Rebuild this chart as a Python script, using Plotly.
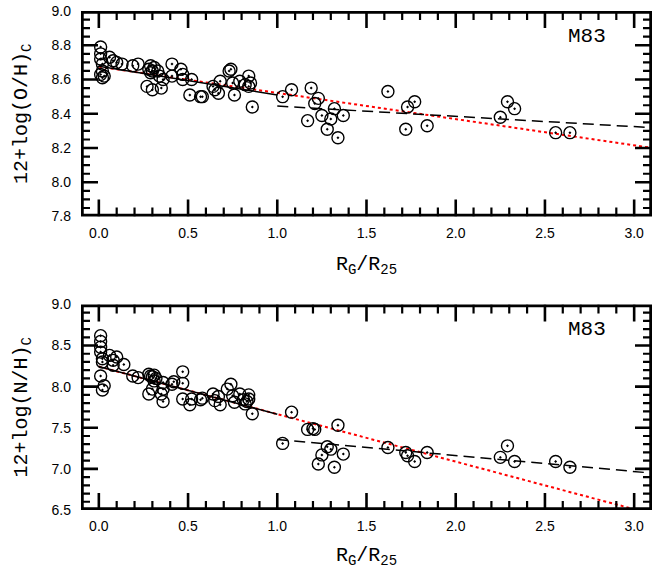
import numpy as np
import plotly.graph_objects as go
from plotly.subplots import make_subplots

# Galactocentric radius (R_G/R_25) and oxygen abundance, 12+log(O/H)
r_oh = [0.01, 0.01, 0.01, 0.02, 0.02, 0.01, 0.03, 0.02, 0.06, 0.08, 0.10, 0.13,
        0.19, 0.22, 0.29, 0.28, 0.30, 0.29, 0.31, 0.33, 0.27, 0.30, 0.35, 0.36,
        0.34, 0.41, 0.41, 0.46, 0.47, 0.47, 0.52, 0.51, 0.57, 0.58, 0.64, 0.65,
        0.67, 0.68, 0.73, 0.74, 0.76, 0.75, 0.79, 0.82, 0.84, 0.85, 0.84, 0.86,
        1.03, 1.08, 1.19, 1.23, 1.21, 1.17, 1.25, 1.28, 1.30, 1.32, 1.37, 1.34,
        1.62, 1.73, 1.77, 1.72, 1.84, 2.25, 2.29, 2.33, 2.56, 2.64]
oh = [8.79, 8.75, 8.72, 8.69, 8.65, 8.63, 8.62, 8.61, 8.73, 8.71, 8.70, 8.69,
      8.68, 8.69, 8.68, 8.66, 8.65, 8.64, 8.67, 8.65, 8.56, 8.54, 8.55, 8.60,
      8.62, 8.69, 8.62, 8.66, 8.63, 8.60, 8.60, 8.51, 8.50, 8.50, 8.56, 8.54,
      8.52, 8.59, 8.65, 8.66, 8.51, 8.58, 8.59, 8.57, 8.56, 8.58, 8.62, 8.44,
      8.50, 8.54, 8.55, 8.49, 8.46, 8.36, 8.39, 8.31, 8.37, 8.43, 8.39, 8.26,
      8.53, 8.44, 8.47, 8.31, 8.33, 8.38, 8.47, 8.43, 8.29, 8.29]

# Galactocentric radius (R_G/R_25) and nitrogen abundance, 12+log(N/H)
r_nh = [0.01, 0.01, 0.01, 0.01, 0.02, 0.02, 0.01, 0.03, 0.02, 0.06, 0.08, 0.10,
        0.08, 0.14, 0.19, 0.22, 0.28, 0.29, 0.30, 0.31, 0.32, 0.28, 0.30, 0.31,
        0.36, 0.35, 0.36, 0.36, 0.41, 0.42, 0.47, 0.47, 0.47, 0.51, 0.52, 0.57,
        0.58, 0.64, 0.65, 0.67, 0.68, 0.72, 0.74, 0.75, 0.76, 0.79, 0.81, 0.82,
        0.83, 0.84, 0.84, 0.86, 1.08, 1.17, 1.20, 1.21, 1.34, 1.03, 1.28, 1.30,
        1.25, 1.37, 1.23, 1.32, 1.62, 1.72, 1.73, 1.77, 1.84, 2.25, 2.29, 2.33,
        2.56, 2.64]
nh = [8.62, 8.55, 8.48, 8.42, 8.34, 8.30, 8.13, 8.01, 7.96, 8.38, 8.32, 8.36,
      8.26, 8.27, 8.13, 8.11, 8.15, 8.13, 8.12, 8.14, 8.10, 7.91, 7.97, 8.07,
      7.97, 7.91, 7.82, 8.05, 8.03, 8.06, 8.18, 8.04, 7.85, 7.78, 7.85, 7.84,
      7.86, 7.91, 7.83, 7.88, 7.78, 7.97, 8.03, 7.89, 7.81, 7.91, 7.84, 7.79,
      7.82, 7.85, 7.90, 7.67, 7.69, 7.48, 7.49, 7.48, 7.53, 7.31, 7.27, 7.24,
      7.17, 7.18, 7.06, 7.02, 7.26, 7.20, 7.16, 7.09, 7.20, 7.14, 7.28, 7.09,
      7.09, 7.02]

# Gradient fits: (intercept, slope, x start, x end)
oh_inner = (8.677, -0.167, 0.0, 1.0)
oh_outer = (8.505, -0.060, 1.0, 3.07)
oh_global = (8.675, -0.153, 0.0, 3.1)
nh_inner = (8.244, -0.580, 0.0, 1.0)
nh_outer = (7.553, -0.195, 1.0, 3.06)
nh_global = (8.244, -0.578, 0.0, 3.1)

galaxy = "M83"

# Axis ranges and tick spacing (major, minor) per axis
x_range = (-0.1, 3.1)
x_step = (0.5, 0.1)
oh_range = (7.8, 9.0)
oh_step = (0.2, 0.05)
nh_range = (6.5, 9.0)
nh_step = (0.5, 0.1)

# Page geometry
W, H = 659, 569
ML, MR, MT, MB = 81, 7, 11, 59
VSPACE = 0.176
plot_w = W - ML - MR
panel_h = (H - MT - MB) * (1 - VSPACE) / 2
MAJ_LEN, MIN_LEN = 17, 9
AXIS_COLOR = "black"

fig = make_subplots(rows=2, cols=1, vertical_spacing=VSPACE)


def fit_line(p):
    a, b, x0, x1 = p
    return [x0, x1], [a + b * x0, a + b * x1]


def tick_values(rng, step):
    """Major and minor tick positions strictly inside a range."""
    n0 = int(np.ceil(rng[0] / step[1] - 1e-6))
    n1 = int(np.floor(rng[1] / step[1] + 1e-6))
    ratio = int(round(step[0] / step[1]))
    major, minor = [], []
    for k in range(n0, n1 + 1):
        v = round(k * step[1], 4)
        if abs(v - rng[0]) < 1e-6 or abs(v - rng[1]) < 1e-6:
            continue
        (major if k % ratio == 0 else minor).append(v)
    return major, minor


def tick_path(xvals, yvals, yrng, length):
    """Inward tick segments on all four sides of a panel."""
    dx = length * (x_range[1] - x_range[0]) / plot_w
    dy = length * (yrng[1] - yrng[0]) / panel_h
    px, py = [], []
    for v in xvals:
        px += [v, v, None, v, v, None]
        py += [yrng[0], yrng[0] + dy, None, yrng[1], yrng[1] - dy, None]
    for v in yvals:
        px += [x_range[0], x_range[0] + dx, None, x_range[1], x_range[1] - dx, None]
        py += [v, v, None, v, v, None]
    return px, py


def add_panel(row, r, y, inner, outer, glob, yrng, ystep):
    xs, ys = fit_line(glob)
    fig.add_trace(go.Scatter(x=xs, y=ys, mode="lines",
                             line=dict(color="red", width=2, dash="dot"),
                             showlegend=False), row=row, col=1)
    xs, ys = fit_line(inner)
    fig.add_trace(go.Scatter(x=xs, y=ys, mode="lines",
                             line=dict(color="black", width=1.5),
                             showlegend=False), row=row, col=1)
    xs, ys = fit_line(outer)
    fig.add_trace(go.Scatter(x=xs, y=ys, mode="lines",
                             line=dict(color="black", width=1.5, dash="11px,6px"),
                             showlegend=False), row=row, col=1)
    fig.add_trace(go.Scatter(x=r, y=y, mode="markers",
                             marker=dict(symbol="circle-open-dot", size=12,
                                         color="black", line=dict(width=1.4)),
                             showlegend=False), row=row, col=1)

    # frame and inward ticks
    xmaj, xmin = tick_values(x_range, x_step)
    ymaj, ymin = tick_values(yrng, ystep)
    px, py = tick_path(xmin, ymin, yrng, MIN_LEN)
    fig.add_trace(go.Scatter(x=px, y=py, mode="lines", line=dict(color=AXIS_COLOR, width=2.2),
                             hoverinfo="skip", showlegend=False),
                  row=row, col=1)
    px, py = tick_path(xmaj, ymaj, yrng, MAJ_LEN)
    fig.add_trace(go.Scatter(x=px, y=py, mode="lines", line=dict(color=AXIS_COLOR, width=2.6),
                             hoverinfo="skip", showlegend=False),
                  row=row, col=1)
    fx = [x_range[0], x_range[1], x_range[1], x_range[0], x_range[0]]
    fy = [yrng[0], yrng[0], yrng[1], yrng[1], yrng[0]]
    fig.add_trace(go.Scatter(x=fx, y=fy, mode="lines", line=dict(color=AXIS_COLOR, width=5.5),
                             hoverinfo="skip", showlegend=False),
                  row=row, col=1)


add_panel(1, r_oh, oh, oh_inner, oh_outer, oh_global, oh_range, oh_step)
add_panel(2, r_nh, nh, nh_inner, nh_outer, nh_global, nh_range, nh_step)

mono = "Liberation Mono, Courier New, Courier, monospace"
sans = "Liberation Sans, Arial, sans-serif"

title_font = dict(family=mono, size=20, color="black")
tick_font = dict(family=sans, size=14, color="black")

fig.update_xaxes(range=list(x_range), tickmode="linear", tick0=0, dtick=x_step[0],
                 tickformat=".1f", showline=False, ticks="", ticklabelstandoff=6,
                 showgrid=False, zeroline=False, tickfont=tick_font,
                 title=dict(text="R<sub>G</sub>/R<sub>25</sub>", font=title_font, standoff=16))
fig.update_yaxes(range=list(oh_range), tickmode="linear", tick0=oh_range[0], dtick=oh_step[0],
                 tickformat=".1f", showline=False, ticks="", ticklabelstandoff=9,
                 showgrid=False, zeroline=False, tickfont=tick_font,
                 title=dict(text="12+log(O/H)<sub>C</sub>", font=title_font, standoff=18),
                 row=1, col=1)
fig.update_yaxes(range=list(nh_range), tickmode="linear", tick0=nh_range[0], dtick=nh_step[0],
                 tickformat=".1f", showline=False, ticks="", ticklabelstandoff=9,
                 showgrid=False, zeroline=False, tickfont=tick_font,
                 title=dict(text="12+log(N/H)<sub>C</sub>", font=title_font, standoff=18),
                 row=2, col=1)

fig.add_annotation(x=2.735, y=8.85, xref="x", yref="y", text=galaxy, showarrow=False,
                   font=dict(family=mono, size=21, color="black"))
fig.add_annotation(x=2.735, y=8.69, xref="x2", yref="y2", text=galaxy, showarrow=False,
                   font=dict(family=mono, size=21, color="black"))

fig.update_layout(template="none", width=W, height=H, margin=dict(l=ML, r=MR, t=MT, b=MB),
                  plot_bgcolor="white", paper_bgcolor="white")

fig.write_html("out.html")
